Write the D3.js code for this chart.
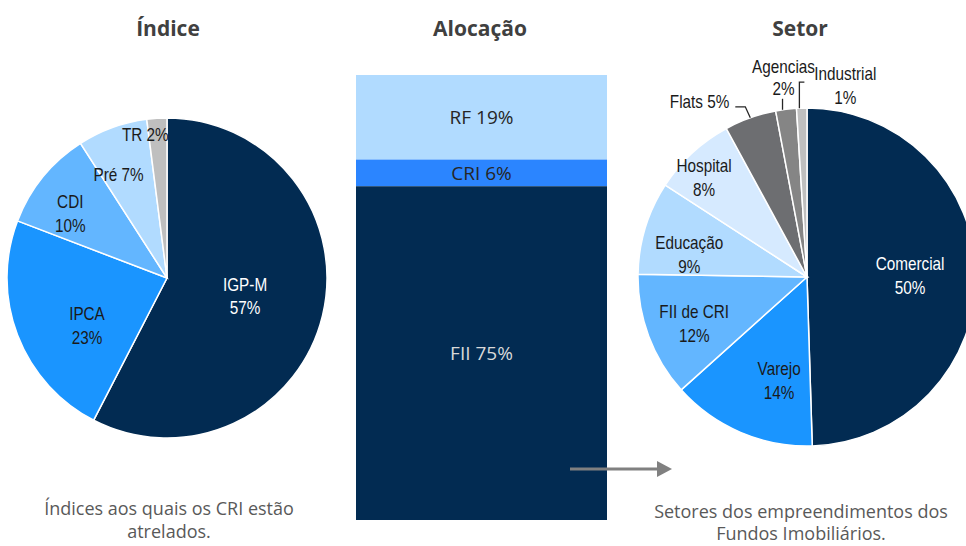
<!DOCTYPE html>
<html>
<head>
<meta charset="utf-8">
<script src="https://cdn.jsdelivr.net/npm/d3@7"></script>
<style>
  body { margin: 0; background: #fff; }
  svg { display: block; }
  .title { font-family: "Open Sans", sans-serif; font-weight: bold; font-size: 21px; fill: #404040; }
  .caption { font-family: "Open Sans", sans-serif; font-size: 18px; fill: #595959; }
  .pieLabel { font-family: "Liberation Sans", Arial, sans-serif; font-size: 18px; }
  .barLabel { font-family: "Open Sans", sans-serif; font-size: 19px; }
</style>
</head>
<body>
<svg id="chart" width="966" height="546"></svg>
<script>
// Índice (pie on the left)
const indiceNames = ["IGP-M", "IPCA", "CDI", "Pré", "TR"];
const indiceValues = [57, 23, 10, 7, 2];

// Alocação (stacked column in the middle, top to bottom)
const alocNames = ["RF", "CRI", "FII"];
const alocValues = [19, 6, 75];

// Setor (pie on the right)
const setorNames = ["Comercial", "Varejo", "FII de CRI", "Educação", "Hospital", "Flats", "Agencias", "Industrial"];
const setorValues = [50, 14, 12, 9, 8, 5, 2, 1];

const indiceColors = ["#022b52", "#1a95ff", "#63b6ff", "#b1dbff", "#bfbfbf"];
const alocColors = ["#b1dbff", "#2b85ff", "#022b52"];
const setorColors = ["#022b52", "#1a95ff", "#63b6ff", "#b1dbff", "#d6eaff", "#6d6e71", "#858585", "#bfbfbf"];

// narrow look of the pie labels
const narrow = 0.85;

const svg = d3.select("#chart");

//Titles:
svg.append("text").attr("class", "title").attr("x", 168).attr("y", 36).attr("text-anchor", "middle").text("Índice");
svg.append("text").attr("class", "title").attr("x", 480).attr("y", 36).attr("text-anchor", "middle").text("Alocação");
svg.append("text").attr("class", "title").attr("x", 800).attr("y", 36).attr("text-anchor", "middle").text("Setor");

// adds a (condensed) label text at x,y; lines are stacked 24px apart
function pieText(g, x, y, lines, anchor, fill) {
    let t = g.append("text").attr("class", "pieLabel")
        .attr("transform", `translate(${x},${y}) scale(${narrow},1)`)
        .attr("text-anchor", anchor).attr("fill", fill);
    lines.forEach((s, i) => t.append("tspan").attr("x", 0).attr("y", i * 24).text(s));
    return t;
}

/**
 * Draws a pie starting at 12 o'clock, clockwise
 * labelPos: per slice [radius fraction, angle shift in degrees] (null = label outside)
 */
function drawPie(cx, cy, r, names, values, colors, labelPos, oneLine) {
    let g = svg.append("g").attr("transform", `translate(${cx},${cy})`);
    let pie = d3.pie().sort(null).value(d => d.value);
    let arcs = pie(names.map((n, i) => ({name: n, value: values[i], color: colors[i]})));
    let arc = d3.arc().innerRadius(0).outerRadius(r);

    g.selectAll("path").data(arcs)
        .join("path")
        .attr("d", arc)
        .attr("fill", d => d.data.color)
        .attr("stroke", "#fff")
        .attr("stroke-width", 1.5);

    arcs.forEach(d => {
        let p = labelPos[d.index];
        if (p == null) return;
        let mid = (d.startAngle + d.endAngle) / 2 + p[1] * Math.PI / 180;
        let x = Math.sin(mid) * r * p[0];
        let y = -Math.cos(mid) * r * p[0];
        let fill = d.index == 0 ? "#ffffff" : "#1a1a1a";
        if (oneLine[d.index]) {
            pieText(g, x, y + 6.5, [d.data.name + " " + d.data.value + "%"], "middle", fill);
        } else {
            pieText(g, x, y - 5, [d.data.name, d.data.value + "%"], "middle", fill);
        }
    });
    return {g: g, arcs: arcs};
}

// Left pie
drawPie(167, 278, 160, indiceNames, indiceValues, indiceColors,
    [[0.5, -1], [0.58, -9.5], [0.73, -5], [0.716, -5], [0.905, -5]],
    [false, false, false, true, true]);

// Right pie
let setor = drawPie(807, 277, 169, setorNames, setorValues, setorColors,
    [[0.61, 0], [0.63, -8], [0.72, -1.5], [0.71, -6], [0.85, -3], null, null, null],
    [false, false, false, false, false, false, false, false]);

//Outside labels with leader lines (Flats, Agencias, Industrial):
let rOut = 169;
let edge = (d, shift) => {
    let mid = (d.startAngle + d.endAngle) / 2 + shift * Math.PI / 180;
    return [Math.sin(mid) * rOut, -Math.cos(mid) * rOut];
};
let line = d3.line();
let sg = setor.g;
let lead = (pts) => sg.append("path").attr("d", line(pts))
    .attr("fill", "none").attr("stroke", "#262626").attr("stroke-width", 1.3);

// Flats
let pF = edge(setor.arcs[5], 0);
lead([pF, [pF[0] - 5, pF[1] - 11], [pF[0] - 15, pF[1] - 11]]);
pieText(sg, pF[0] - 21, pF[1] - 10, [setorNames[5] + " " + setorValues[5] + "%"], "end", "#1a1a1a");

// Agencias
let pA = edge(setor.arcs[6], -1.2);
lead([pA, [pA[0], pA[1] - 11]]);
pieText(sg, pA[0] + 1, pA[1] - 37, [setorNames[6], setorValues[6] + "%"], "middle", "#1a1a1a")
    .selectAll("tspan").filter((d, i) => i == 1).attr("y", 22);

// Industrial
let pI = edge(setor.arcs[7], -0.8);
lead([pI, [pI[0], pI[1] - 26], [pI[0] + 5, pI[1] - 26]]);
pieText(sg, pI[0] + 46, pI[1] - 28, [setorNames[7], setorValues[7] + "%"], "middle", "#1a1a1a");

//Middle stacked column:
let yScale = d3.scaleLinear().domain([0, d3.sum(alocValues)]).range([75, 520]);
let xScale = d3.scaleBand().domain(["Alocação"]).range([356, 607]).padding(0);
let cum = 0;
let stack = alocValues.map((v, i) => {
    let s = {name: alocNames[i], value: v, y0: cum, y1: cum + v, color: alocColors[i]};
    cum += v;
    return s;
});
let bars = svg.append("g").selectAll("g").data(stack).join("g");
bars.append("rect")
    .attr("x", xScale("Alocação"))
    .attr("width", xScale.bandwidth())
    .attr("y", d => yScale(d.y0))
    .attr("height", d => yScale(d.y1) - yScale(d.y0))
    .attr("fill", d => d.color);
bars.append("text").attr("class", "barLabel")
    .attr("text-anchor", "middle")
    .attr("x", xScale("Alocação") + xScale.bandwidth() / 2)
    .attr("y", d => (yScale(d.y0) + yScale(d.y1)) / 2 + 7)
    .attr("fill", (d, i) => i == 2 ? "#d9d9d9" : "#262626")
    .text(d => d.name + " " + d.value + "%");

//Arrow:
svg.append("line").attr("x1", 570).attr("y1", 469).attr("x2", 658).attr("y2", 469)
    .attr("stroke", "#808080").attr("stroke-width", 3);
svg.append("path").attr("d", "M657,461 L672,469 L657,477 Z").attr("fill", "#808080");

//Captions:
let cap1 = svg.append("text").attr("class", "caption").attr("text-anchor", "middle");
cap1.append("tspan").attr("x", 169).attr("y", 515).text("Índices aos quais os CRI estão");
cap1.append("tspan").attr("x", 169).attr("y", 538).text("atrelados.");
let cap2 = svg.append("text").attr("class", "caption").attr("text-anchor", "middle");
cap2.append("tspan").attr("x", 801).attr("y", 518).text("Setores dos empreendimentos dos");
cap2.append("tspan").attr("x", 801).attr("y", 540).text("Fundos Imobiliários.");
</script>
</body>
</html>
